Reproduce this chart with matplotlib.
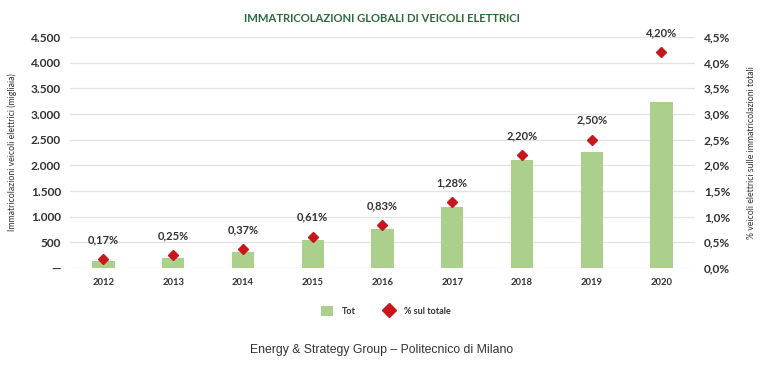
import matplotlib
matplotlib.use("Agg")
import matplotlib.pyplot as plt
from matplotlib.lines import Line2D
from matplotlib.patches import Patch
from matplotlib.ticker import FixedLocator, FuncFormatter

years = ["2012", "2013", "2014", "2015", "2016", "2017", "2018", "2019", "2020"]
tot = [135, 200, 320, 540, 760, 1190, 2110, 2260, 3240]
pct = [0.17, 0.25, 0.37, 0.61, 0.83, 1.28, 2.20, 2.50, 4.20]
pct_labels = ["0,17%", "0,25%", "0,37%", "0,61%", "0,83%", "1,28%", "2,20%", "2,50%", "4,20%"]

bar_color = "#abd08c"
mark_color = "#c8161d"
text_color = "#333333"
font = ["Lato", "DejaVu Sans"]

plt.rcParams["font.family"] = font

fig = plt.figure(figsize=(7.64, 3.69), dpi=100)
ax = fig.add_axes([0.0916, 0.2737, 0.818, 0.626])
x = list(range(len(years)))
ax.bar(x, tot, width=0.32, color=bar_color, zorder=2)
ax.set_xlim(-0.48, 8.48)
ax.set_ylim(0, 4500)
ax.yaxis.set_major_locator(FixedLocator(range(0, 4501, 500)))

def lfmt(v, p):
    if v == 0:
        return "—"
    return f"{int(v):,}".replace(",", ".")
ax.yaxis.set_major_formatter(FuncFormatter(lfmt))
ax.grid(axis="y", color="#e3e3e3", lw=0.9, zorder=0)
ax.set_xticks(x)
ax.set_xticklabels(years, fontsize=6.8, fontweight="bold", color=text_color)
for s in ax.spines.values():
    s.set_visible(False)
ax.tick_params(axis="both", length=0)
ax.tick_params(axis="y", labelsize=8.6, labelcolor=text_color, pad=6.5)
ax.tick_params(axis="x", pad=7)
for lab in ax.get_yticklabels():
    lab.set_fontweight("bold")
ax.set_ylabel("Immatricolazioni veicoli elettrici (migliaia)", fontsize=6.3, color=text_color, labelpad=10)

ax2 = ax.twinx()
ax2.set_ylim(0, 4.5)
ax2.yaxis.set_major_locator(FixedLocator([i * 0.5 for i in range(10)]))
ax2.yaxis.set_major_formatter(FuncFormatter(lambda v, p: f"{v:.1f}%".replace(".", ",")))
for s in ax2.spines.values():
    s.set_visible(False)
ax2.tick_params(axis="y", length=0, labelsize=8.6, labelcolor=text_color, pad=6.5)
for lab in ax2.get_yticklabels():
    lab.set_fontweight("bold")
ax2.plot(x, pct, linestyle="none", marker="D", markersize=5.6, color=mark_color, zorder=3)
for xi, p, t in zip(x, pct, pct_labels):
    ax2.annotate(t, (xi, p), xytext=(0, 10), textcoords="offset points", ha="center", va="bottom",
                 fontsize=8, fontweight="bold", color=text_color)
ax2.set_ylabel("% veicoli elettrici sulle immatricolazioni totali", fontsize=6.3, color=text_color,
               rotation=90, labelpad=12)

fig.text(0.5, 0.95, "IMMATRICOLAZIONI GLOBALI DI VEICOLI ELETTRICI", ha="center", va="center",
         fontsize=8.1, fontweight="bold", color="#2d6a3a")

handles = [Patch(facecolor=bar_color, edgecolor="none"),
           Line2D([], [], linestyle="none", marker="D", markersize=7, color=mark_color)]
leg = fig.legend(handles, ["Tot", "% sul totale"], loc="center", bbox_to_anchor=(0.505, 0.158), ncol=2,
                 frameon=False, fontsize=6.5, handlelength=1.3, handleheight=1.3, columnspacing=3.0,
                 handletextpad=1.0)
for t in leg.get_texts():
    t.set_fontweight("bold")
    t.set_color(text_color)

fig.text(0.5, 0.051, "Energy & Strategy Group – Politecnico di Milano", ha="center", va="center",
         fontsize=8.8, color="#333333", family=["Liberation Sans", "DejaVu Sans"])

fig.savefig("out.png", dpi=100)
